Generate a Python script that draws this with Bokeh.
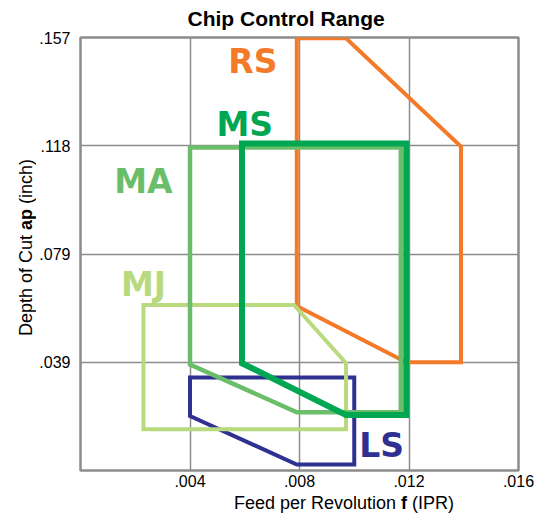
import math
from bokeh.plotting import figure
from bokeh.models import FixedTicker, Label, ColumnDataSource
from bokeh.layouts import row, column
from bokeh.embed import file_html
from bokeh.resources import INLINE
from bokeh.core.properties import value

# ---- data ----
x_ticks = [0.004, 0.008, 0.012, 0.016]
x_tick_labels = [".004", ".008", ".012", ".016"]
y_ticks = [0.03937, 0.07874, 0.11811, 0.15748]
y_tick_labels = [".039", ".079", ".118", ".157"]

grades = ["LS", "RS", "MJ", "MA", "MS"]

ls_f = [0.0040, 0.0100, 0.0100, 0.0079, 0.0040]
ls_ap = [0.0338, 0.0338, 0.0022, 0.0022, 0.0198]

rs_f = [0.0079, 0.0097, 0.0139, 0.0139, 0.0119, 0.0079]
rs_ap = [0.1572, 0.1572, 0.1178, 0.0394, 0.0394, 0.0598]

mj_f = [0.0023, 0.0078, 0.0097, 0.0097, 0.0023]
mj_ap = [0.0602, 0.0602, 0.0390, 0.0150, 0.0150]

ma_f = [0.0040, 0.0117, 0.0117, 0.0079, 0.0040]
ma_ap = [0.1175, 0.1175, 0.0212, 0.0212, 0.0385]

ms_f = [0.0059, 0.0119, 0.0119, 0.0097, 0.0059]
ms_ap = [0.1189, 0.1189, 0.0202, 0.0202, 0.0390]

label_f = [0.0110, 0.0063, 0.0023, 0.0023, 0.0060]
label_ap = [0.0091, 0.1486, 0.0675, 0.1051, 0.1258]

title_text = "Chip Control Range"
x_label_parts = ["Feed per Revolution", "f", "(IPR)"]
y_label_parts = ["Depth of Cut", "ap", "(inch)"]

colors = {"LS": "#2E3192", "RS": "#F37A29", "MJ": "#B9D97E", "MA": "#6BBE69", "MS": "#00A651"}
widths = {"LS": 4, "RS": 4, "MJ": 4, "MA": 4.5, "MS": 6}
shapes = {"LS": (ls_f, ls_ap), "RS": (rs_f, rs_ap), "MJ": (mj_f, mj_ap),
          "MA": (ma_f, ma_ap), "MS": (ms_f, ms_ap)}

# ---- main figure ----
p = figure(width=510, height=492, x_range=(0, 0.016), y_range=(0, 0.15748),
           output_backend="svg", toolbar_location=None,
           min_border_left=44, min_border_right=28, min_border_top=37, min_border_bottom=22)
p.background_fill_color = "white"
p.border_fill_color = "white"
p.outline_line_color = "#8c8c8c"
p.outline_line_width = 2.5

p.title.text = title_text
p.title.text_font = "Liberation Sans"
p.title.text_font_size = "21px"
p.title.text_font_style = "bold"
p.title.text_color = "black"
p.title.align = "left"
p.title.offset = 107
p.title.standoff = 12
p.title.vertical_align = "top"

p.xaxis.ticker = FixedTicker(ticks=x_ticks)
p.yaxis.ticker = FixedTicker(ticks=y_ticks)
p.xaxis.major_label_overrides = {t: l for t, l in zip(x_ticks, x_tick_labels)}
p.yaxis.major_label_overrides = {t: l for t, l in zip(y_ticks, y_tick_labels)}
for ax in (p.xaxis, p.yaxis):
    ax.axis_line_color = None
    ax.major_tick_line_color = None
    ax.minor_tick_line_color = None
    ax.major_tick_out = 0
    ax.major_tick_in = 0
    ax.minor_tick_out = 0
    ax.minor_tick_in = 0
    ax.major_label_text_font = "Liberation Sans"
    ax.major_label_text_font_size = "16px"
    ax.major_label_text_color = "black"
p.xaxis.major_label_standoff = 4
p.yaxis.major_label_standoff = 10

p.xgrid.ticker = FixedTicker(ticks=x_ticks)
p.ygrid.ticker = FixedTicker(ticks=y_ticks)
p.grid.grid_line_color = "#8c8c8c"
p.grid.grid_line_width = 1.5

for g in grades:
    fx, fy = shapes[g]
    p.patch(fx, fy, fill_color=None, line_color=colors[g], line_width=widths[g],
            line_join="miter")

src = ColumnDataSource(dict(x=label_f, y=label_ap, text=grades,
                            color=[colors[g] for g in grades]))
p.text(x="x", y="y", text="text", source=src, text_color="color",
       text_font=value("DejaVu Sans"), text_font_style="bold", text_font_size="33px",
       text_align="center", text_baseline="middle")


def blank_fig(w, h):
    f = figure(width=w, height=h, x_range=(0, 1), y_range=(0, 1),
               x_axis_location=None, y_axis_location=None, min_border=0,
               output_backend="svg", toolbar_location=None)
    f.outline_line_color = None
    f.grid.visible = False
    f.background_fill_color = "white"
    f.border_fill_color = "white"
    return f


def add_label(fig, text, x, y, bold=False, angle=0):
    fig.add_layout(Label(x=x, y=y, x_units="screen", y_units="screen", text=text,
                         text_font="Liberation Sans", text_font_size="18px",
                         text_font_style="bold" if bold else "normal",
                         text_color="black", text_align="left", text_baseline="middle",
                         angle=angle))


# y axis label (rotated, mixed bold)
ylab = blank_fig(36, 520)
add_label(ylab, y_label_parts[0], 25, 184.5, angle=math.pi / 2)
add_label(ylab, y_label_parts[1], 25, 290.6, bold=True, angle=math.pi / 2)
add_label(ylab, y_label_parts[2], 25, 316.6, angle=math.pi / 2)

# x axis label (mixed bold)
xlab = blank_fig(510, 28)
add_label(xlab, x_label_parts[0], 153.5, 17.5)
add_label(xlab, x_label_parts[1], 320.6, 17.5, bold=True)
add_label(xlab, x_label_parts[2], 331.6, 17.5)

layout = row(ylab, column(p, xlab))

open("out.html", "w").write(file_html(layout, INLINE))
